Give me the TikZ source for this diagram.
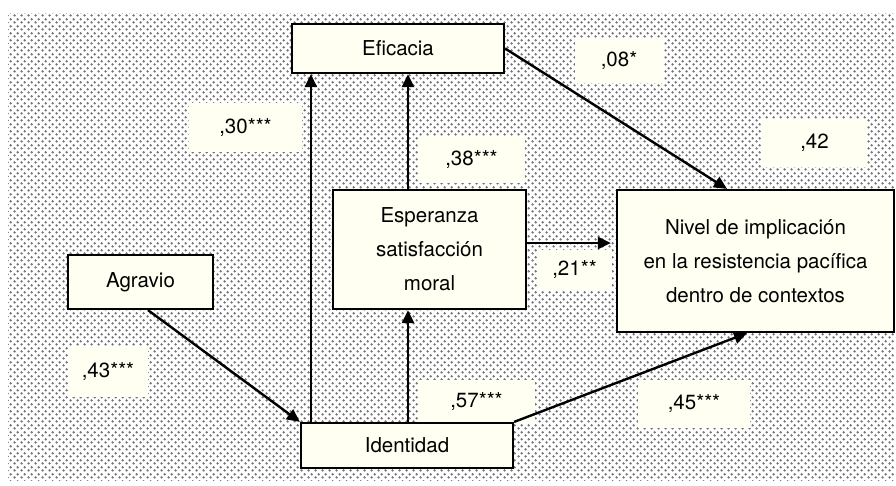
\documentclass[tikz,border=0pt]{standalone}
\usepackage{fontspec}
\setmainfont{TeX Gyre Heros}
\usetikzlibrary{arrows.meta,patterns.meta}
\definecolor{cream}{RGB}{255,255,242}
\tikzdeclarepattern{
  name=bgdots,
  type=uncolored,
  bottom left={(0pt,0pt)},
  top right={(6.6pt,6.6pt)},
  tile size={(6.6pt,6.6pt)},
  code={
    \fill (1.65pt,1.65pt) circle (1.35pt);
    \fill (4.95pt,4.95pt) circle (1.35pt);
  }
}
\tikzset{
  varbox/.style={draw=black, line width=2.2pt, fill=cream, inner sep=0pt, align=center,
    font=\fontsize{20.5}{34}\selectfont},
  coef/.style={fill=cream, inner sep=0pt, font=\fontsize{20.5}{24}\selectfont},
  path/.style={line width=2.4pt, -{Triangle[length=13pt,width=12pt]}}
}
\begin{document}
\begin{tikzpicture}[x=1pt,y=-1pt]
\useasboundingbox (0,0) rectangle (896,485);
\fill[pattern=bgdots, pattern color=black!55] (8,13) rectangle (894,480);

% coefficient labels
\node[coef, minimum width=113pt, minimum height=49pt] (l30) at (245.5,127.5) {,30***};
\node[coef, minimum width=107pt, minimum height=47pt] (l38) at (471.5,159.5) {,38***};
\node[coef, minimum width=88pt, minimum height=44pt] (l08) at (619,61) {,08*};
\node[coef, minimum width=105pt, minimum height=48pt] (l42) at (814.5,143) {,42};
\node[coef, minimum width=75pt, minimum height=40pt] (l21) at (574.5,270) {,21**};
\node[coef, minimum width=80pt, minimum height=50pt] (l43) at (108,372) {,43***};
\node[coef, minimum width=117pt, minimum height=43pt] (l57) at (476.5,401.5) {,57***};
\node[coef, minimum width=112pt, minimum height=48pt] (l45) at (694,404) {,45***};

% variable boxes
\node[varbox, minimum width=212pt, minimum height=49pt] (efi) at (398,48.5) {Eficacia};
\node[varbox, minimum width=193pt, minimum height=119pt] (esp) at (429.5,249.5) {Esperanza\\satisfacción\\moral};
\node[varbox, minimum width=277pt, minimum height=142pt] (niv) at (755.5,261) {Nivel de implicación\\en la resistencia pacífica\\dentro de contextos};
\node[varbox, minimum width=145pt, minimum height=54pt] (agr) at (140.5,282) {Agravio};
\node[varbox, minimum width=212pt, minimum height=45pt] (idn) at (407,445.5) {Identidad};

% paths
\draw[path] ([xshift=7.5pt]agr.south) -- (idn.north west);
\draw[path] ([xshift=11pt]idn.north west) -- ([xshift=20pt]efi.south west);
\draw[path] ([xshift=-21.5pt]esp.north) -- ([xshift=10pt]efi.south);
\draw[path] ([xshift=1pt]idn.north) -- ([xshift=-21.5pt]esp.south);
\draw[path] (efi.east) -- ([xshift=-28.5pt]niv.north);
\draw[path] ([yshift=6.5pt]esp.east) -- ([xshift=-5pt,yshift=18pt]niv.west);
\draw[path] (idn.north east) -- ([xshift=-8.5pt]niv.south);
\end{tikzpicture}
\end{document}
